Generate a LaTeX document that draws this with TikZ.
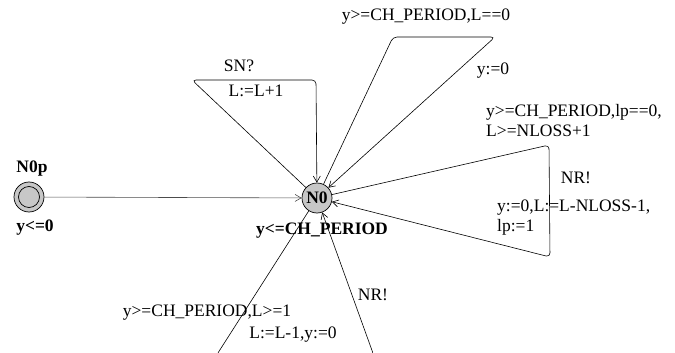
\documentclass[tikz,border=0pt]{standalone}
\usepackage{fontspec}
\setmainfont{Liberation Serif}
\usepackage{tikz}
\usetikzlibrary{arrows.meta}
\tikzset{
  loc/.style={draw,circle,fill=black!22,line width=0.7pt,minimum size=30pt,inner sep=0pt,font=\bfseries},
  lbl/.style={inner sep=0pt,font=\fontsize{17.5}{20}\selectfont},
  locname/.style={inner sep=0pt,font=\fontsize{17.5}{20}\selectfont\bfseries},
  arr/.style={-{Straight Barb[length=6pt,width=7pt]},line width=0.6pt},
  selfloop/.style={arr,rounded corners=4pt}
}
\begin{document}
\begin{tikzpicture}[x=1pt,y=-1pt]
\useasboundingbox (0,0) rectangle (675,353);
\node[loc] (N0p) at (29,197) {};
\draw[line width=0.7pt] (N0p.center) circle[radius=10.5];
\node[loc,font=\fontsize{17.5}{20}\selectfont\bfseries] (N0) at (317,198) {N0};

\node[locname] (nN0p) at (32,169) {N0p};
\node[locname] (iN0p) at (35,228) {y<=0};
\node[locname] (iN0) at (322,231) {y<=CH\_PERIOD};

% init edge
\draw[arr,draw=black!70] (N0p) -- (N0);

% SN? loop
\coordinate (a1) at (192,80);
\coordinate (a2) at (316,80);
\draw[selfloop] (N0) -- (a1) -- (a2) -- (N0);
\node[lbl] (sn) at (239,66) {SN?};
\node[lbl] (inc) at (256,91) {L:=L+1};

% L==0 loop
\coordinate (b1) at (393,37);
\coordinate (b2) at (495,37);
\draw[selfloop] (N0) -- (b1) -- (b2) -- (N0);
\node[lbl] (g0) at (426,17) {y>=CH\_PERIOD,L==0};
\node[lbl] (r0) at (493,71) {y:=0};

% NLOSS loop
\coordinate (c1) at (549,145);
\coordinate (c2) at (550,257);
\draw[selfloop] (N0) -- (c1) -- (c2) -- (N0);
\node[lbl,align=left,anchor=north west] (g1) at (486,104) {y>=CH\_PERIOD,lp==0,\\L>=NLOSS+1};
\node[lbl] (s1) at (576,178) {NR!};
\node[lbl,align=left,anchor=north west] (r1) at (497,200) {y:=0,L:=L-NLOSS-1,\\lp:=1};

% L>=1 loop
\coordinate (d1) at (216,356);
\coordinate (d2) at (374,356);
\draw[selfloop] (N0) -- (d1) -- (d2) -- (N0);
\node[lbl] (g2) at (207,313) {y>=CH\_PERIOD,L>=1};
\node[lbl] (r2) at (293,335) {L:=L-1,y:=0};
\node[lbl] (s2) at (373,295) {NR!};
\end{tikzpicture}
\end{document}
